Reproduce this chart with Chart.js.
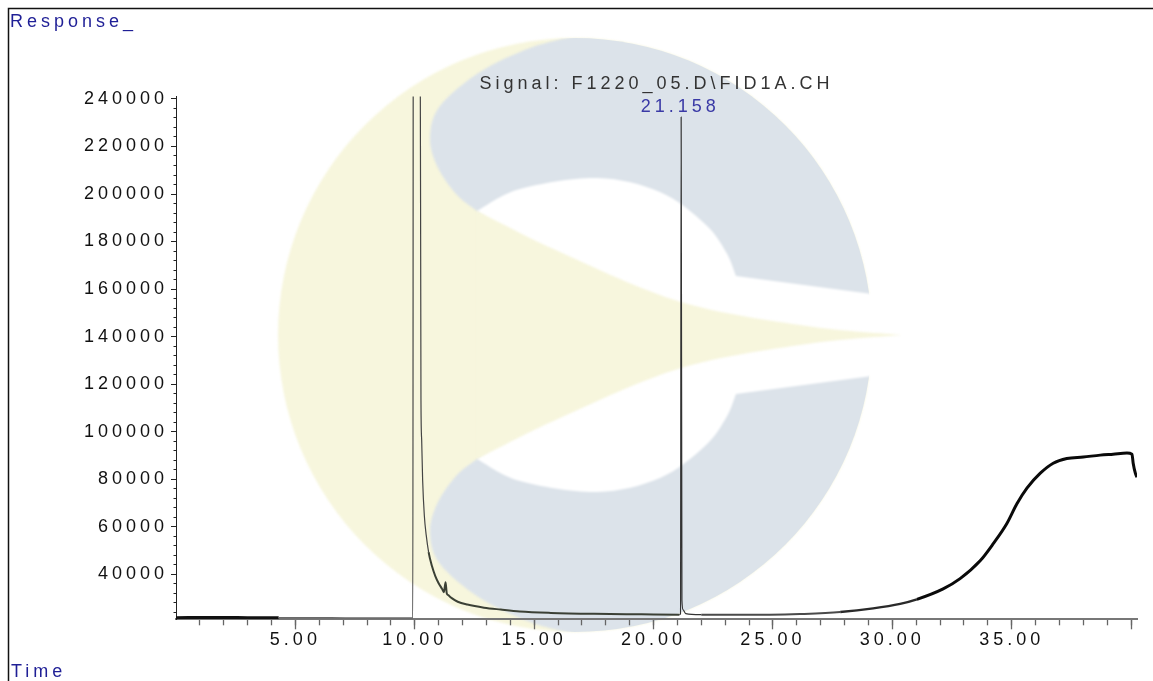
<!DOCTYPE html>
<html lang="en">
<head>
    <meta charset="UTF-8">
    <title>Signal: F1220_05.D\FID1A.CH</title>
    <script src="https://cdn.jsdelivr.net/npm/chart.js"></script>
    <style>
        body { margin: 0; background: #fff; }
        .chart-container { position: relative; width: 1153px; height: 681px; }
    </style>
</head>
<body>
    <div class="chart-container">
        <canvas id="fidChart" width="1153" height="681"></canvas>
    </div>

    <script>
        // retention time (min) and detector response
        const timeMin = [
            0.00, 1.50, 3.00, 4.30, 6.50, 8.50, 9.92,
            9.94, 10.22, 10.26, 10.29, 10.33, 10.40, 10.48, 10.58, 10.72, 10.86,
            11.00, 11.15, 11.22, 11.29, 11.34, 11.40, 11.55, 11.80, 12.20, 12.90,
            13.60, 14.40, 15.70, 17.50, 19.50, 21.08, 21.13, 21.158, 21.19, 21.24,
            21.35, 22.00, 24.00, 25.50, 26.14, 27.82, 29.20, 30.33, 31.03, 32.13,
            32.84, 33.68, 34.23, 34.80, 35.22, 35.64, 36.20, 36.74, 37.31, 38.00,
            38.71, 39.25, 39.83, 40.04, 40.09, 40.18, 40.25
        ];
        const response = [
            21700, 21750, 21700, 21650, 21600, 21550, 21550,
            300000, 300000, 113300, 96400, 79600, 64800, 56400, 49300, 43400, 39200,
            36200, 33700, 32400, 36600, 32000, 31200, 29900, 28400, 27200, 25900,
            25100, 24300, 23700, 23300, 23100, 22950, 23300, 232400, 29000, 25000,
            23400, 22950, 22900, 23000, 23200, 24100, 25600, 27500, 29400, 33800,
            38100, 45600, 52800, 61300, 69600, 76200, 82500, 86700, 88700, 89300,
            90100, 90500, 90950, 90500, 86700, 82500, 80800
        ];

        const signalTitle = 'Signal: F1220_05.D\\FID1A.CH';
        const peakTime = 21.158;
        const peakLabel = '21.158';

        // axis ticks
        const xMajorTicks = [5, 10, 15, 20, 25, 30, 35, 40];
        const xMinorTicks = [];
        for (let t = 1; t <= 40; t++) xMinorTicks.push(t);
        const yMajorTicks = [40000, 60000, 80000, 100000, 120000, 140000, 160000, 180000, 200000, 220000, 240000];
        const yMinorTicks = [];
        for (let v = 24000; v <= 240000; v += 4000) yMinorTicks.push(v);

        const fontFamily = "'Liberation Sans', Arial, sans-serif";
        const plotFont = { family: fontFamily, size: 18, weight: 'normal' };
        const spacing = '4px';

        const points = timeMin.map((t, i) => ({ x: t, y: response[i] }));
        const peakValue = response[timeMin.indexOf(peakTime)];

        // wide letter spacing like the printout
        const letterSpacing = {
            id: 'letterSpacing',
            beforeUpdate(chart) { chart.ctx.letterSpacing = spacing; },
            beforeDraw(chart) { chart.ctx.letterSpacing = spacing; }
        };

        // smooth path through a list of points
        function spline(c, pts, start) {
            if (start) c.moveTo(pts[0][0], pts[0][1]); else c.lineTo(pts[0][0], pts[0][1]);
            for (let i = 0; i < pts.length - 1; i++) {
                const p0 = pts[i - 1] || pts[i], p1 = pts[i], p2 = pts[i + 1], p3 = pts[i + 2] || p2;
                c.bezierCurveTo(
                    p1[0] + (p2[0] - p0[0]) / 6, p1[1] + (p2[1] - p0[1]) / 6,
                    p2[0] - (p3[0] - p1[0]) / 6, p2[1] - (p3[1] - p1[1]) / 6,
                    p2[0], p2[1]);
            }
        }

        // faint logo behind the trace
        const watermark = {
            id: 'watermark',
            beforeDraw(chart) {
                const c = chart.ctx;
                const cx = 575, cy = 335, r = 297;
                const mirror = (pts) => pts.map(p => [p[0], 2 * cy - p[1]]);
                const lobe = [[477, 211], [456, 194], [437, 166], [430, 137], [440, 106], [480, 72], [530, 48], [575, 36]];
                const hole = [[477, 211], [520, 189], [597, 178], [660, 192], [705, 224], [726, 252], [736, 276]];
                const wedge = [[477, 211], [560, 252], [681, 302], [807, 326], [902, 335]];
                const yellow = '#f7f6dd', blue = '#dce3ea';

                c.save();
                c.filter = 'blur(1px)';
                c.fillStyle = yellow;
                c.beginPath(); c.arc(cx, cy, r, 0, Math.PI * 2); c.fill();

                c.save();
                c.beginPath(); c.arc(cx, cy, r, 0, Math.PI * 2); c.clip();
                c.fillStyle = blue;
                c.beginPath();
                c.moveTo(575, 20); c.lineTo(950, 20); c.lineTo(950, 660); c.lineTo(575, 660);
                spline(c, mirror(lobe).reverse(), false);
                c.lineTo(620, cy);
                spline(c, lobe, false);
                c.closePath(); c.fill();
                c.restore();

                c.fillStyle = '#ffffff';
                [hole, mirror(hole)].forEach((h, k) => {
                    const sy = k ? 2 * cy - 294 : 294;
                    c.beginPath();
                    spline(c, h, true);
                    c.lineTo(872, sy); c.lineTo(910, sy); c.lineTo(910, cy); c.lineTo(620, cy);
                    c.closePath(); c.fill();
                });

                c.fillStyle = yellow;
                c.beginPath();
                spline(c, wedge, true);
                spline(c, mirror(wedge).reverse(), false);
                c.closePath(); c.fill();
                c.restore();
            }
        };

        // frame, corner captions and the peak label
        const labels = {
            id: 'labels',
            afterDraw(chart) {
                const c = chart.ctx;
                const xs = chart.scales.x, ys = chart.scales.y;
                c.save();
                c.font = '18px ' + fontFamily;
                c.letterSpacing = spacing;
                c.textBaseline = 'alphabetic';

                c.fillStyle = '#3a3aa6';
                c.textAlign = 'center';
                c.fillText(peakLabel, xs.getPixelForValue(peakTime) - 1, ys.getPixelForValue(peakValue) - 4.7);

                c.fillStyle = '#1f1f96';
                c.textAlign = 'left';
                c.fillText('Response_', 10, 27);
                c.fillText('Time', 11, 677);

                c.strokeStyle = '#111';
                c.lineWidth = 1.5;
                c.beginPath();
                c.moveTo(8.5, 681); c.lineTo(8.5, 8.5); c.lineTo(1153, 8.5);
                c.stroke();
                c.restore();
            }
        };

        function segColor(ctx) {
            const t = ctx.p0.parsed.x;
            if (t < 4.3) return '#111111';
            if (t < 9.92) return '#6a6a6a';
            if (t < 10.5) return '#444444';
            if (t < 21.0) return '#3b4035';
            if (t < 21.5) return '#333333';
            if (t < 27) return '#4a4a4a';
            if (t < 30.5) return '#2a2a2a';
            return '#0a0a0a';
        }
        function segWidth(ctx) {
            const t = ctx.p0.parsed.x;
            if (t < 4.3) return 3;
            if (t < 9.92) return 1.5;
            if (t < 10.5) return 1.2;
            if (t < 21.0) return 2;
            if (t < 21.5) return 1.2;
            if (t < 27) return 2;
            if (t < 30.5) return 2.5;
            return 3;
        }

        const setTicks = (list) => (scale) => { scale.ticks = list.map(v => ({ value: v })); };

        new Chart(document.getElementById('fidChart'), {
            type: 'line',
            data: {
                datasets: [{
                    data: points,
                    pointRadius: 0,
                    borderColor: '#222',
                    borderWidth: 2,
                    cubicInterpolationMode: 'monotone',
                    segment: { borderColor: segColor, borderWidth: segWidth }
                }]
            },
            options: {
                responsive: false,
                animation: false,
                events: [],
                layout: { padding: { top: 72.8, right: 16, bottom: 20, left: 0 } },
                plugins: {
                    legend: { display: false },
                    tooltip: { enabled: false },
                    title: {
                        display: true,
                        text: signalTitle,
                        fullSize: false,
                        color: '#333',
                        font: plotFont,
                        padding: { top: 0, bottom: 2.2 }
                    }
                },
                scales: {
                    x: {
                        type: 'linear', position: 'bottom', weight: 1,
                        min: 0, max: 40.25,
                        afterBuildTicks: setTicks(xMajorTicks),
                        afterFit: s => { s.height = 41.7; },
                        grid: { drawOnChartArea: false, tickLength: 10, tickColor: '#666', tickWidth: 1.3 },
                        border: { display: true, color: '#777', width: 2 },
                        ticks: {
                            autoSkip: false, maxRotation: 0, padding: 0, color: '#111', font: plotFont,
                            callback: v => (v > 0 && v < 40) ? v.toFixed(2) : ''
                        }
                    },
                    xMinor: {
                        type: 'linear', position: 'bottom', weight: 0,
                        min: 0, max: 40.25,
                        afterBuildTicks: setTicks(xMinorTicks),
                        afterFit: s => { s.height = 0; },
                        grid: { drawOnChartArea: false, tickLength: 6, tickColor: '#666', tickWidth: 1.3 },
                        border: { display: false },
                        ticks: { display: false }
                    },
                    y: {
                        type: 'linear', position: 'left', weight: 1,
                        min: 21000, max: 241000,
                        afterBuildTicks: setTicks(yMajorTicks),
                        afterFit: s => { s.width = 176; },
                        grid: { drawOnChartArea: false, tickLength: 5, tickColor: '#222' },
                        border: { display: true, color: '#222', width: 1 },
                        ticks: {
                            autoSkip: false, padding: 3, color: '#111', font: plotFont,
                            callback: v => String(v)
                        }
                    },
                    yMinor: {
                        type: 'linear', position: 'left', weight: 0,
                        min: 21000, max: 241000,
                        afterBuildTicks: setTicks(yMinorTicks),
                        afterFit: s => { s.width = 0; },
                        grid: { drawOnChartArea: false, tickLength: 2.5, tickColor: '#222' },
                        border: { display: false },
                        ticks: { display: false }
                    }
                }
            },
            plugins: [letterSpacing, watermark, labels]
        });
    </script>
</body>
</html>
